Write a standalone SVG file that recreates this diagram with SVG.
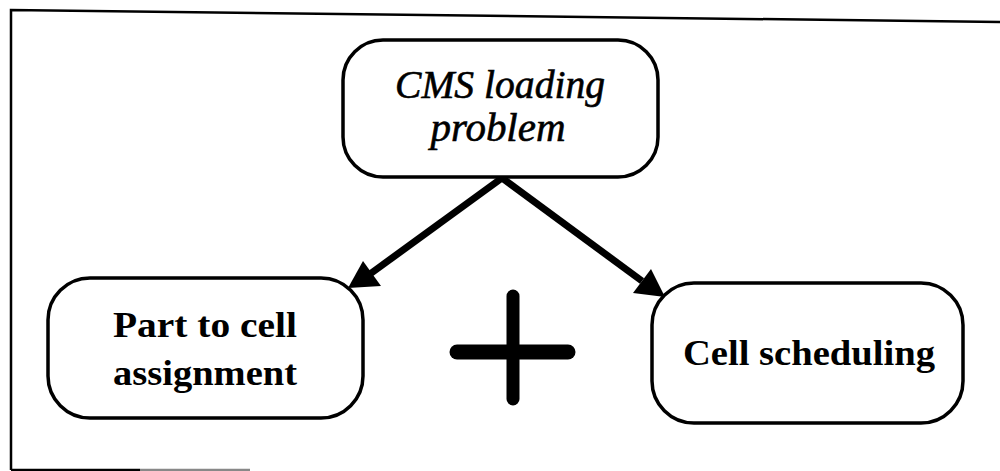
<svg xmlns="http://www.w3.org/2000/svg" width="1000" height="471" viewBox="0 0 1000 471">
  <style>
    .frame { fill: none; stroke: #000; stroke-width: 2.5; }
    .box { fill: #fff; stroke: #000; stroke-width: 3.5; }
    .title { font-family: "Liberation Serif", "Times New Roman", serif; font-style: italic; font-size: 40px; fill: #000; text-anchor: middle; stroke: #000; stroke-width: 0.6; }
    .label { font-family: "Liberation Serif", "Times New Roman", serif; font-weight: bold; font-size: 36px; fill: #000; text-anchor: middle; }
    .edge { stroke: #000; stroke-width: 7; fill: none; }
    .head { fill: #000; }
    .plus { stroke: #000; stroke-linecap: round; fill: none; }
  </style>

  <rect width="1000" height="471" fill="#fff"/>

  <!-- outer frame -->
  <g id="frame">
    <path class="frame" d="M11 470 L11 10 L1000 22"/>
    <path class="frame" d="M11 470 L140 470" />
    <path d="M140 470 L250 470" stroke="#888" stroke-width="2.5"/>
  </g>

  <!-- connectors -->
  <g id="connectors">
    <line class="edge" x1="502" y1="178" x2="370" y2="274"/>
    <polygon class="head" points="348,288 363,261 381,286"/>
    <line class="edge" x1="502" y1="178" x2="642" y2="281"/>
    <polygon class="head" points="665,297 651,269 633,293"/>
  </g>

  <g id="node-cms">
    <rect class="box" x="343" y="40" width="315" height="137" rx="40" ry="40"/>
    <text class="title" x="500" y="98" textLength="210" lengthAdjust="spacingAndGlyphs">CMS loading</text>
    <text class="title" x="498" y="141" textLength="135" lengthAdjust="spacingAndGlyphs">problem</text>
  </g>

  <g id="node-part">
    <rect class="box" x="48" y="278" width="315" height="140" rx="42" ry="42"/>
    <text class="label" x="205" y="337" textLength="184" lengthAdjust="spacingAndGlyphs">Part to cell</text>
    <text class="label" x="205" y="385" textLength="184" lengthAdjust="spacingAndGlyphs">assignment</text>
  </g>

  <g id="node-plus">
    <line class="plus" x1="457" y1="352" x2="568" y2="352" stroke-width="15"/>
    <line class="plus" x1="513" y1="296" x2="513" y2="399" stroke-width="13"/>
  </g>

  <g id="node-sched">
    <rect class="box" x="652" y="283" width="311" height="140" rx="42" ry="42"/>
    <text class="label" x="809" y="365" textLength="252" lengthAdjust="spacingAndGlyphs">Cell scheduling</text>
  </g>
</svg>
